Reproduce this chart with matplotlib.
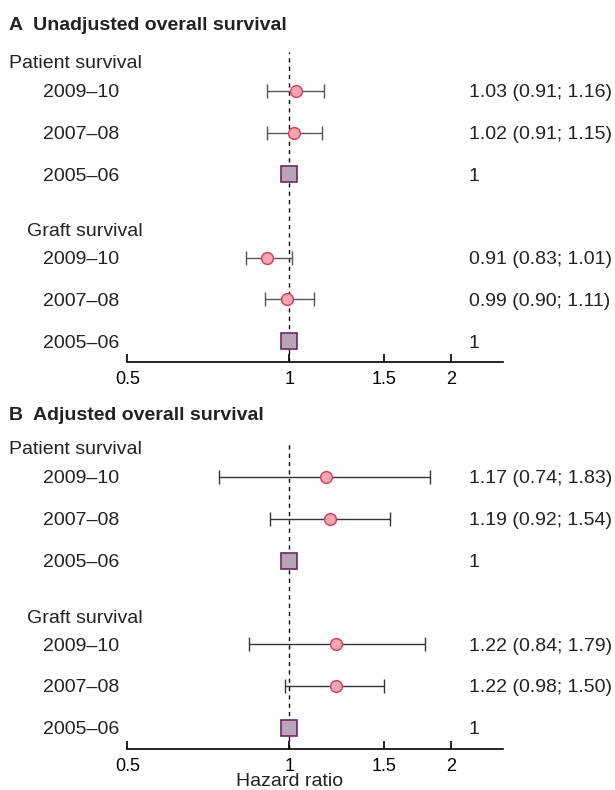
import matplotlib
matplotlib.use("Agg")
import matplotlib.pyplot as plt
from matplotlib.ticker import NullLocator

plt.rcParams["font.family"] = ["Liberation Sans", "DejaVu Sans"]

years = ["2009\u201310", "2007\u201308", "2005\u201306"]
groups = ["Patient survival", "Graft survival"]

# hazard ratio, lower, upper  (patient rows then graft rows)
titles = ["A  Unadjusted overall survival", "B  Adjusted overall survival"]
hr_a = [1.03, 1.02, 1.0, 0.91, 0.99, 1.0]
lo_a = [0.91, 0.91, 1.0, 0.83, 0.90, 1.0]
hi_a = [1.16, 1.15, 1.0, 1.01, 1.11, 1.0]
hr_b = [1.17, 1.19, 1.0, 1.22, 1.22, 1.0]
lo_b = [0.74, 0.92, 1.0, 0.84, 0.98, 1.0]
hi_b = [1.83, 1.54, 1.0, 1.79, 1.50, 1.0]
panels = [(hr_a, lo_a, hi_a), (hr_b, lo_b, hi_b)]

ticks = [0.5, 1, 1.5, 2]
tick_labels = ["0.5", "1", "1.5", "2"]

rows = [0, 1, 2, 4, 5, 6]
header_rows = [-0.7, 3.33]

W, H = 615, 790
fig = plt.figure(figsize=(W / 100, H / 100), dpi=100)

# axes boxes in pixels: (top, bottom)
boxes = [(52.2, 362.0), (443.1, 748.7)]
ytops = [-0.93, -0.81]
title_y = [23, 413]
left, right = 127.3, 503.3

pt_col = "#f4a5ad"
pt_edge = "#d8395c"
ref_col = "#b9a3b9"
ref_edge = "#6a2a60"
bar_cols = ["#555555", "#333333"]

for i, (hr, lo, hi) in enumerate(panels):
    top, bot = boxes[i]
    ax = fig.add_axes([left / W, 1 - bot / H, (right - left) / W, (bot - top) / H])
    ax.set_xscale("log")
    ax.set_xlim(0.5, 2.5)
    ax.set_ylim(6.5, ytops[i])
    for s in ["top", "right", "left"]:
        ax.spines[s].set_visible(False)
    ax.spines["bottom"].set_linewidth(1.2)
    ax.set_yticks([])
    ax.set_xticks(ticks)
    ax.set_xticklabels(tick_labels)
    ax.xaxis.set_minor_locator(NullLocator())
    ax.tick_params(axis="x", direction="in", length=6, width=1.2, pad=6.5, labelsize=13)

    ax.axvline(1, color="black", linestyle=(0, (3, 3)), linewidth=1.0, zorder=1)

    for r, h, l, u in zip(rows, hr, lo, hi):
        if l == u:
            ax.plot(h, r, marker="s", markersize=12, markerfacecolor=ref_col,
                    markeredgecolor=ref_edge, markeredgewidth=1.2, zorder=3)
        else:
            ax.errorbar(h, r, xerr=[[h - l], [u - h]], fmt="o", markersize=8.5,
                        markerfacecolor=pt_col, markeredgecolor=pt_edge,
                        markeredgewidth=1.0, ecolor=bar_cols[i], elinewidth=1.0,
                        capsize=5, capthick=1.0, zorder=3)

    tr = matplotlib.transforms.blended_transform_factory(fig.transFigure, ax.transData)
    ax.text(9 / W, header_rows[0], groups[0], transform=tr, fontsize=14,
            ha="left", va="center_baseline", color="#222222")
    ax.text(27 / W, header_rows[1], groups[1], transform=tr, fontsize=14,
            ha="left", va="center_baseline", color="#222222")
    for k, r in enumerate(rows):
        ax.text(43 / W, r, years[k % 3], transform=tr, fontsize=14,
                ha="left", va="center_baseline", color="#222222")
        if lo[k] == hi[k]:
            lab = "1"
        else:
            lab = f"{hr[k]:.2f} ({lo[k]:.2f}; {hi[k]:.2f})"
        ax.text(469 / W, r, lab, transform=tr, fontsize=14,
                ha="left", va="center_baseline", color="#222222")

    fig.text(9 / W, 1 - title_y[i] / H, titles[i], fontsize=14, fontweight="bold",
             ha="left", va="center_baseline", color="#222222")

    if i == 1:
        ax.annotate("Hazard ratio", xy=(1, 0), xycoords=("data", "axes fraction"),
                    xytext=(0, -22.5), textcoords="offset points", ha="center",
                    va="center_baseline", fontsize=14, color="#222222")

fig.savefig("out.png", dpi=100)
